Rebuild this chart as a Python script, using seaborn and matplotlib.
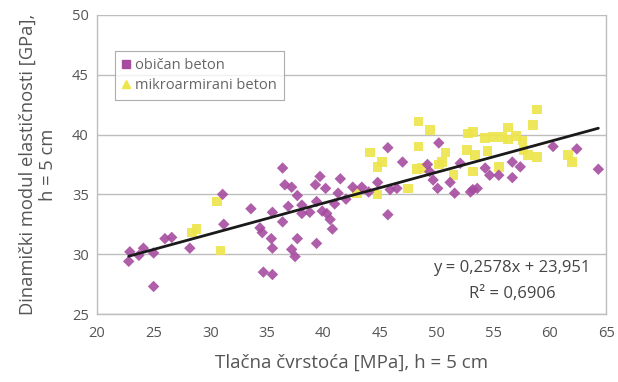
import numpy as np
import pandas as pd
import seaborn as sns
import matplotlib.pyplot as plt
from matplotlib.lines import Line2D

# obican beton (purple diamonds)
obican_x = [22.8, 22.9, 23.7, 24.1, 25.0, 25.0, 26.0, 26.6, 28.2, 31.1, 31.2,
            33.6, 34.4, 34.6, 35.4, 35.5, 34.7, 35.5, 35.5, 36.4, 36.6, 37.2,
            37.7, 36.4, 36.9, 37.7, 37.2, 37.5, 38.1, 38.1, 38.8, 39.4, 39.7,
            39.3, 40.2, 40.3, 40.6, 40.8, 39.4, 41.5, 41.3, 42.6, 39.9, 41.0,
            43.4, 44.8, 45.9, 46.5, 45.7, 45.7, 47.0, 50.2, 49.2, 49.4, 49.7,
            50.1, 51.2, 51.6, 52.1, 53.2, 53.6, 53.0, 54.3, 54.7, 55.5, 56.7,
            56.7, 57.4, 60.3, 62.4, 64.3, 42.0, 44.0]
obican_y = [29.4, 30.2, 29.9, 30.5, 30.1, 27.3, 31.3, 31.4, 30.5, 35.0, 32.5,
            33.8, 32.2, 31.8, 31.3, 30.5, 28.5, 28.3, 33.5, 37.2, 35.8, 35.6,
            34.9, 32.7, 34.0, 31.3, 30.4, 29.8, 34.1, 33.4, 33.5, 34.4, 36.5,
            35.8, 35.5, 33.4, 32.9, 32.1, 30.9, 36.3, 35.1, 35.6, 33.6, 34.2,
            35.6, 36.0, 35.4, 35.5, 33.3, 38.9, 37.7, 39.3, 37.5, 36.9, 36.2,
            35.5, 36.0, 35.1, 37.6, 35.4, 35.5, 35.2, 37.2, 36.6, 36.6, 36.4,
            37.7, 37.3, 39.0, 38.8, 37.1, 34.6, 35.2]

# mikroarmirani beton (yellow squares)
mikro_x = [28.4, 28.8, 30.6, 30.9, 43.0, 44.1, 45.2, 44.8, 44.8, 47.5, 48.4,
           49.4, 48.4, 48.3, 48.7, 50.8, 50.5, 50.2, 51.5, 52.8, 52.7, 53.2,
           53.2, 54.3, 55.0, 55.8, 56.3, 56.3, 57.6, 57.7, 58.1, 58.9, 58.5,
           58.9, 61.6, 62.0, 53.4, 55.5, 54.5, 57.0]
mikro_y = [31.8, 32.1, 34.4, 30.3, 35.1, 38.5, 37.7, 37.3, 35.0, 35.5, 41.1,
           40.4, 39.0, 37.1, 37.2, 38.5, 37.7, 37.5, 36.6, 40.1, 38.7, 36.9,
           40.2, 39.7, 39.8, 39.8, 39.6, 40.6, 39.5, 38.7, 38.3, 38.1, 40.8,
           42.1, 38.3, 37.7, 38.3, 37.3, 38.6, 39.9]

slope = 0.2578
intercept = 23.951

purple = "#a64ca0"
yellow = "#ede54a"
grid_c = "#bdbdbd"
text_c = "#555555"

sns.set_style("white")
plt.rcParams["font.family"] = ["Open Sans", "DejaVu Sans"]

fig = plt.figure(figsize=(6.18, 3.82), dpi=100)
ax = fig.add_axes([0.157, 0.178, 0.824, 0.783])

df_o = pd.DataFrame({"x": obican_x, "y": obican_y})
df_m = pd.DataFrame({"x": mikro_x, "y": mikro_y})

sns.scatterplot(data=df_o, x="x", y="y", ax=ax, marker="D", s=34,
                color=purple, edgecolor="none", alpha=0.9, zorder=3)
sns.scatterplot(data=df_m, x="x", y="y", ax=ax, marker="s", s=48,
                color=yellow, edgecolor="none", alpha=0.9, zorder=2)

all_x = np.array(obican_x + mikro_x)
fit_x = np.array([all_x.min(), all_x.max()])
sns.lineplot(x=fit_x, y=slope * fit_x + intercept, ax=ax, color="#1a1a1a",
             lw=2, zorder=4)

ax.set_xlim(20, 65)
ax.set_ylim(25, 50)
ax.set_xticks(range(20, 66, 5))
ax.set_yticks(range(25, 51, 5))
ax.yaxis.grid(True, color=grid_c, lw=1)
ax.set_axisbelow(True)
for side in ["left", "bottom", "right"]:
    ax.spines[side].set_color(grid_c)
    ax.spines[side].set_linewidth(1)
ax.spines["top"].set_visible(False)
ax.tick_params(axis="both", direction="inout", length=5, color=grid_c,
               labelcolor=text_c, labelsize=10.5)
ax.tick_params(axis="x", pad=6)
ax.tick_params(axis="y", right=False)

ax.set_xlabel("Tlačna čvrstoća [MPa], h = 5 cm", color=text_c, fontsize=13.5,
              labelpad=9)
ax.set_ylabel("Dinamički modul elastičnosti [GPa],\nh = 5 cm", color=text_c,
              fontsize=13.2, labelpad=11, linespacing=1.15)

ax.text(0.815, 0.155, "y = 0,2578x + 23,951", transform=ax.transAxes,
        ha="center", va="center", fontsize=12, color="#444444")
ax.text(0.815, 0.068, "R² = 0,6906", transform=ax.transAxes,
        ha="center", va="center", fontsize=12, color="#444444")

handles = [
    Line2D([], [], marker="s", color=purple, lw=0, markersize=6),
    Line2D([], [], marker="^", color=yellow, lw=0, markersize=6),
]
leg = ax.legend(handles, ["običan beton", "mikroarmirani beton"],
                loc="upper left", bbox_to_anchor=(0.02, 0.905),
                frameon=True, fancybox=False, fontsize=10.5, handlelength=0.6,
                handletextpad=0.3, borderpad=0.5, labelspacing=0.35)
leg.get_frame().set_edgecolor("#999999")
leg.get_frame().set_linewidth(0.8)
for t in leg.get_texts():
    t.set_color("#666666")

fig.savefig("out.png", dpi=100)
